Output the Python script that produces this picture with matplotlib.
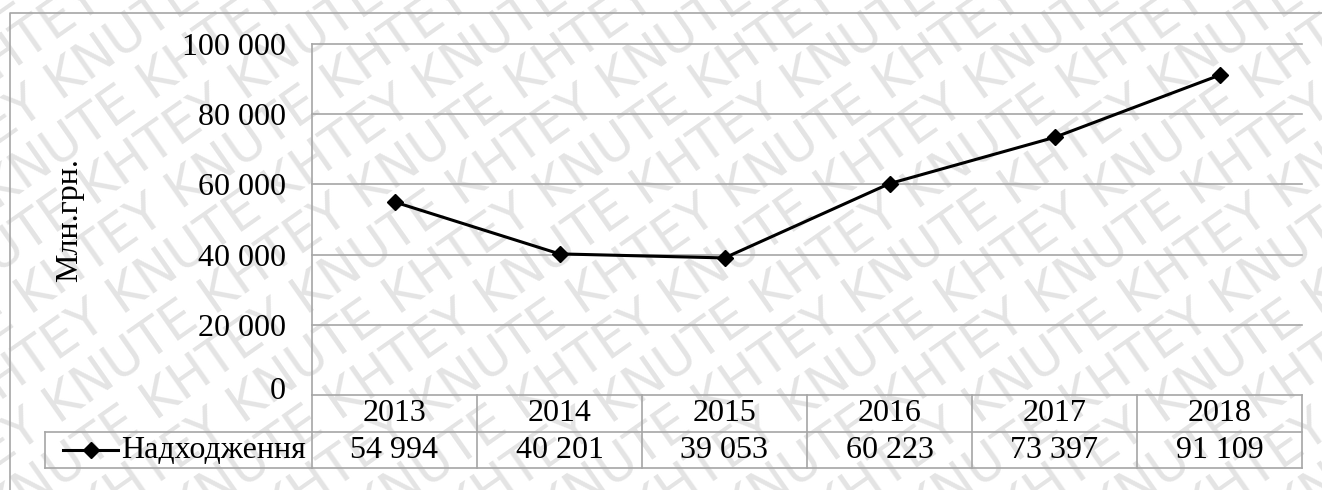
import matplotlib
matplotlib.use("Agg")
import matplotlib.pyplot as plt
import matplotlib.transforms as mtransforms
from matplotlib.lines import Line2D

# Data
years = ["2013", "2014", "2015", "2016", "2017", "2018"]
revenue = [54994, 40201, 39053, 60223, 73397, 91109]
series_name = "Надходження"
y_label = "Млн.грн."
y_ticks = [0, 20000, 40000, 60000, 80000, 100000]
watermark_words = ["KNUTE", "KHTEY"]


def fmt(v):
    return f"{v:,}".replace(",", " ")


plt.rcParams["font.family"] = ["Liberation Serif", "DejaVu Serif"]

W, H = 1322, 490
fig = plt.figure(figsize=(W / 100, H / 100), dpi=100)
fig.patch.set_facecolor("white")


def fx(px):
    return px / W


def fy(py):
    return 1 - py / H


# Diagonal background watermark, one text per row
for k in range(-9, 17):
    words = watermark_words if k % 2 == 0 else watermark_words[::-1]
    row = " ".join(words * 4)
    fig.text(fx(k * 92), fy(530), row, rotation=35, rotation_mode="anchor",
             ha="left", va="baseline", fontsize=37, family="DejaVu Sans",
             color="#e4e4e4", zorder=-5)

GRID = "#a6a6a6"
FS = 23

# Plot area
ax = fig.add_axes([fx(312), fy(395), fx(1302) - fx(312), fy(44) - fy(395)])
ax.set_facecolor("none")
xs = list(range(len(years)))
ax.plot(xs, revenue, color="black", lw=2.2, marker="D", ms=8,
        markerfacecolor="black", zorder=5, clip_on=False)
ax.set_xlim(-0.5, len(years) - 0.5)
ax.set_ylim(0, 100000)
ax.set_yticks(y_ticks)
ax.set_yticklabels([fmt(v) for v in y_ticks], fontsize=FS)
ax.set_xticks([])
ax.tick_params(axis="y", length=0, pad=19)
ax.yaxis.grid(True, color=GRID, lw=1.2)
for gl in ax.yaxis.get_gridlines():
    gl.set_clip_on(False)
# the zero label sits a little above its gridline
zero_lbl = ax.get_yticklabels()[0]
zero_lbl.set_transform(zero_lbl.get_transform()
                       + mtransforms.ScaledTranslation(0, 7 / 100, fig.dpi_scale_trans))
for s in ["top", "right", "bottom"]:
    ax.spines[s].set_visible(False)
ax.spines["left"].set_color(GRID)
ax.spines["left"].set_linewidth(1.2)

fig.text(fx(70), fy(220), y_label, rotation=90, ha="center", va="center",
         fontsize=FS)

# Data table under the axis
blend = mtransforms.blended_transform_factory(ax.transData, ax.transAxes)
ph = 395 - 44
row1_bot = -(432 - 395) / ph
row2_bot = -(468 - 395) / ph
legend_left = (45 - 312) / (1302 - 312)


def vline(x, y0, y1, tr):
    ax.add_line(Line2D([x, x], [y0, y1], transform=tr, color=GRID, lw=1.2,
                       clip_on=False))


def hline(x0, x1, y, tr):
    ax.add_line(Line2D([x0, x1], [y, y], transform=tr, color=GRID, lw=1.2,
                       clip_on=False))


for i in range(len(years) + 1):
    vline(i - 0.5, row2_bot, 0, blend)
vline(legend_left, row2_bot, row1_bot, ax.transAxes)
hline(-0.5, len(years) - 0.5, row1_bot, blend)
hline(legend_left, 0, row1_bot, ax.transAxes)
hline(legend_left, 0, row2_bot, ax.transAxes)
hline(-0.5, len(years) - 0.5, row2_bot, blend)

for i, (yr, v) in enumerate(zip(years, revenue)):
    ax.text(i, row1_bot / 2, yr, transform=blend, ha="center", va="center",
            fontsize=FS)
    ax.text(i, (row1_bot + row2_bot) / 2, fmt(v), transform=blend,
            ha="center", va="center", fontsize=FS)

# Legend key inside the table
ky = (row1_bot + row2_bot) / 2
kx0 = (63 - 312) / 990
kx1 = (118 - 312) / 990
ax.add_line(Line2D([kx0, kx1], [ky, ky], transform=ax.transAxes,
                   color="black", lw=2.2, clip_on=False))
ax.add_line(Line2D([(kx0 + kx1) / 2], [ky], transform=ax.transAxes,
                   color="black", marker="D", ms=8, clip_on=False))
ax.text((121 - 312) / 990, ky, series_name, transform=ax.transAxes,
        ha="left", va="center", fontsize=FS)

# Chart frame
frame = Line2D([fx(10), fx(10), fx(1330)], [fy(500), fy(13), fy(13)],
               transform=fig.transFigure, color=GRID, lw=1.2)
fig.add_artist(frame)

fig.savefig("out.png", dpi=100)
